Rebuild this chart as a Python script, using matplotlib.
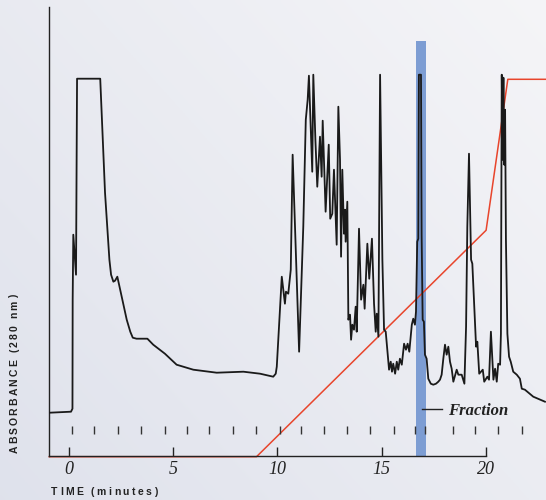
import numpy as np
import matplotlib
matplotlib.use("Agg")
import matplotlib.pyplot as plt
import matplotlib.transforms as mtransforms
from matplotlib.font_manager import FontProperties

# chromatogram trace: time (min) and absorbance (arbitrary units, detector saturates ~380)
time_min = [-0.91, 0.11, 0.18, 0.19, 0.22, 0.35, 0.40, 1.51, 1.62, 1.74, 1.95, 2.03, 2.14, 2.22, 2.33,
            2.54, 2.78, 2.95, 3.07, 3.25, 3.42, 3.77, 4.05, 4.61, 5.17, 5.97, 7.09, 8.37, 9.17, 9.80, 9.92,
            9.97, 10.21, 10.36, 10.41, 10.52, 10.64, 10.73, 11.04, 11.24, 11.36, 11.45, 11.51,
            11.67, 11.72, 11.82, 11.91, 12.04, 12.12, 12.17, 12.31, 12.46, 12.53, 12.63, 12.71,
            12.84, 12.92, 13.00, 13.05, 13.11, 13.19, 13.24, 13.27, 13.35, 13.40, 13.48, 13.53,
            13.59, 13.67, 13.75, 13.80, 13.91, 14.01, 14.12, 14.18, 14.31, 14.40, 14.53, 14.63,
            14.71, 14.76, 14.84, 14.92, 15.03, 15.11, 15.19, 15.24, 15.35, 15.43, 15.49, 15.55,
            15.64, 15.72, 15.79, 15.87, 15.96, 16.07, 16.16, 16.24, 16.32, 16.44, 16.51, 16.59,
            16.64, 16.70, 16.75, 16.78, 16.88, 16.91, 16.96, 17.02, 17.07, 17.15, 17.23, 17.35,
            17.47, 17.60, 17.71, 17.79, 17.87, 17.95, 18.03, 18.11, 18.19, 18.27, 18.35, 18.43,
            18.59, 18.67, 18.83, 18.96, 19.04, 19.10, 19.18, 19.28, 19.34, 19.52, 19.58, 19.67,
            19.84, 19.91, 20.06, 20.14, 20.23, 20.35, 20.43, 20.51, 20.58, 20.67, 20.71, 20.75,
            20.79, 20.83, 20.87, 20.91, 20.95, 21.02, 21.10, 21.18, 21.30, 21.47, 21.62, 21.71,
            21.86, 22.26, 22.82]
absorbance = [43, 44, 47, 156, 221, 181, 377, 377, 322, 263, 196, 181, 174, 175, 179,
              159, 136, 124, 118, 117, 117, 117, 111, 102, 91, 86, 83, 84, 82, 79, 82,
              89, 179, 152, 164, 162, 186, 301, 104, 229, 336, 356, 380,
              284, 381, 316, 269, 319, 279, 335, 244, 311, 237, 242, 286,
              211, 349, 296, 199, 286, 222, 246, 214, 254, 136, 141, 116,
              131, 126, 149, 124, 227, 156, 171, 147, 212, 177, 217, 152,
              124, 142, 119, 381, 196, 126, 124, 112, 86, 94, 84, 92,
              82, 94, 86, 97, 91, 112, 106, 112, 104, 131, 137, 131,
              144, 214, 217, 381, 381, 221, 136, 134, 101, 97, 77, 72,
              71, 72, 74, 76, 81, 97, 111, 101, 109, 94, 87, 74,
              86, 81, 81, 72, 129, 229, 302, 196, 192, 109, 114, 82,
              86, 74, 79, 76, 124, 76, 87, 74, 92, 91, 122, 381,
              296, 378, 291, 346, 216, 122, 99, 94, 84, 81, 77, 67,
              66, 59, 54]

# solvent gradient (%B)
grad_time = [-0.93, 9.0, 20.0, 21.04, 22.87]
grad_pct = [0, 0, 60, 100, 100]
pct_scale = 3.774  # 100 %B drawn at detector full scale

# fraction collector marks (min) and collected fraction window
frac_marks = [0.16, 1.23, 2.35, 3.47, 4.60, 5.66, 6.74, 7.86, 8.98, 10.11, 11.15,
              12.25, 13.35, 14.46, 15.59, 16.59, 17.07, 18.40, 19.47, 20.58, 21.73]
fraction_start = 16.63
fraction_end = 17.10

W, H = 546, 500
fig = plt.figure(figsize=(W / 100, H / 100), dpi=100)

# soft grey-blue backdrop
bg = fig.add_axes([0, 0, 1, 1], zorder=-5)
gx, gy = np.meshgrid(np.linspace(0, 1, 200), np.linspace(0, 1, 200))
shade = np.clip(0.55 * gx + 0.45 * (1 - gy), 0, 1)
c0 = np.array([0.875, 0.886, 0.925])
c1 = np.array([0.960, 0.960, 0.970])
img = c0 + (c1 - c0) * shade[..., None]
bg.imshow(img, aspect='auto', extent=[0, 1, 0, 1], origin='upper')
bg.axis('off')

ax = fig.add_axes([49.3 / W, 44.3 / H, (W - 49.3) / W, 448.7 / H])
ax.patch.set_alpha(0)
ax.set_xlim(-0.93, 22.87)
ax.set_ylim(0, 448.7)

# collected fraction
ax.bar((fraction_start + fraction_end) / 2, 414.7, width=fraction_end - fraction_start,
       bottom=0, color='#7d9dd3', zorder=1)

# gradient line, sitting just under the time axis at 0 %B
red_tr = mtransforms.offset_copy(ax.transData, fig=fig, x=0, y=-1.0, units='dots')
ax.plot(grad_time, np.array(grad_pct) * pct_scale, color='#e8452c', lw=1.1,
        transform=red_tr, zorder=2, clip_on=False)

ax.plot(time_min, absorbance, color='#1a1a1a', lw=1.3, zorder=3)

ax.vlines(frac_marks, 21.7, 29.7, color='#333333', lw=1.0, zorder=3)

ax.plot([16.91, 17.87], [46.7, 46.7], color='#222222', lw=1.0, zorder=3)
ax.text(18.19, 40.7, 'Fraction', fontsize=12, family='Liberation Serif', style='italic',
        weight='bold', color='#222222', va='baseline', ha='left')

for side in ['top', 'right']:
    ax.spines[side].set_visible(False)
ax.spines['bottom'].set_bounds(-0.93, 20)
ax.spines['left'].set_linewidth(1.0)
ax.spines['bottom'].set_linewidth(1.0)
ax.spines['left'].set_color('#222222')
ax.spines['bottom'].set_color('#222222')
ax.spines['bottom'].set_zorder(2.5)

ax.set_yticks([])
ax.set_xticks([0, 5, 10, 15, 20])
ax.tick_params(axis='x', direction='in', length=6.5, width=1.0, pad=4, labelsize=13,
               color='#222222', labelcolor='#222222')
for lbl in ax.get_xticklabels():
    lbl.set_family('Liberation Serif')
    lbl.set_style('italic')

renderer = fig.canvas.get_renderer()
label_font = FontProperties(family='Liberation Sans', weight='bold', size=7.5)


def tracked_text(x0, y0, s, total, vertical=False):
    # letter-spaced label; x0, y0 in pixels from top-left, total = length in pixels
    widths = [renderer.get_text_width_height_descent(ch, label_font, ismath=False)[0] for ch in s]
    track = (total - sum(widths)) / (len(s) - 1)
    pos = 0.0
    for ch, w in zip(s, widths):
        c = pos + w / 2
        if vertical:
            fig.text(x0 / W, 1 - (y0 - c) / H, ch, rotation=90, ha='center', va='center',
                     fontproperties=label_font, color='#222222')
        else:
            fig.text((x0 + c) / W, 1 - y0 / H, ch, ha='center', va='center',
                     fontproperties=label_font, color='#222222')
        pos += w + track


tracked_text(51, 492, 'TIME (minutes)', 106)
tracked_text(14.5, 453, 'ABSORBANCE (280 nm)', 158, vertical=True)

fig.savefig('out.png', dpi=100)
plt.close(fig)
